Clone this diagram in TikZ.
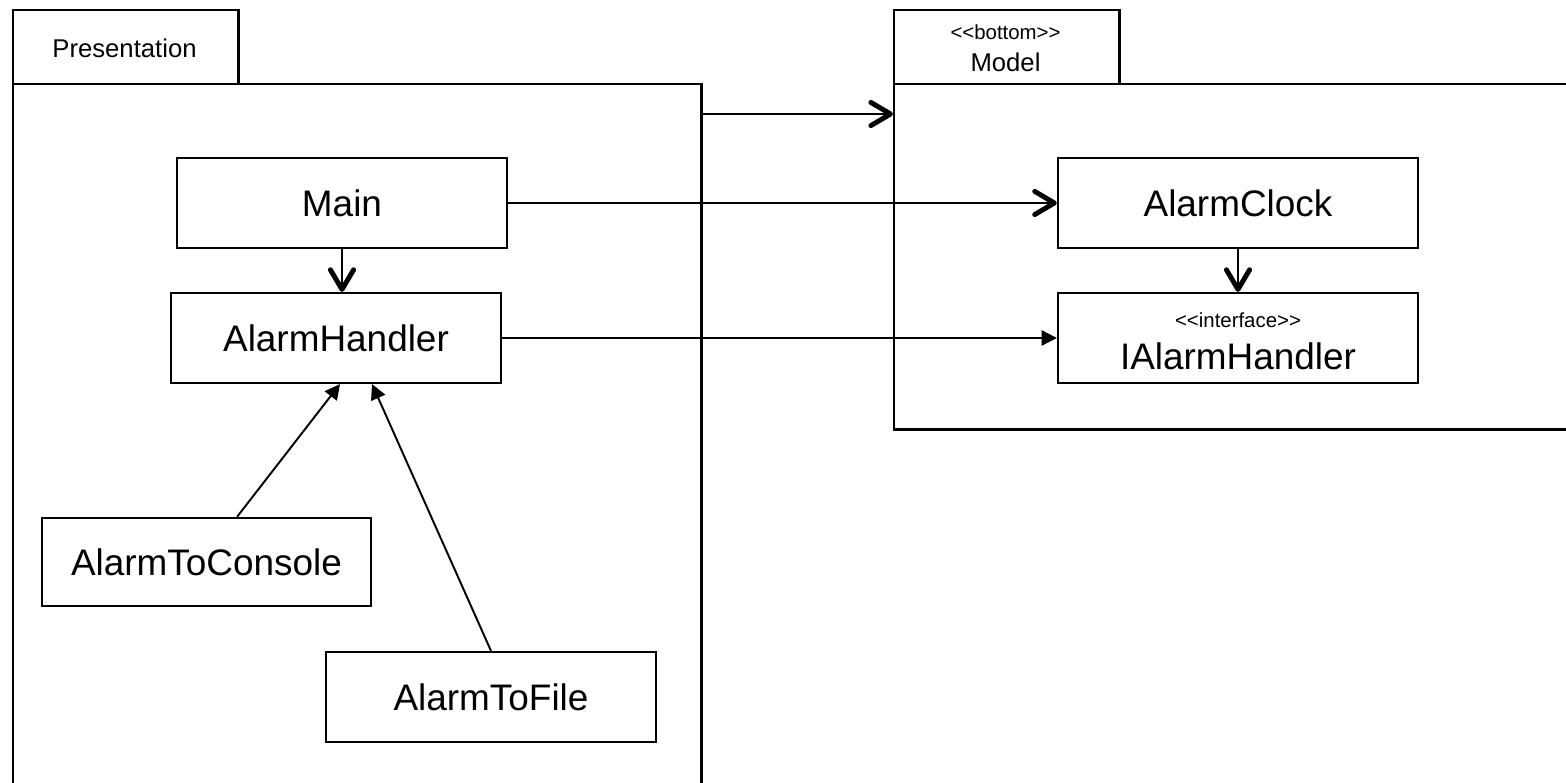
\documentclass[tikz,border=0pt]{standalone}
\usepackage{fontspec}
\setmainfont{Liberation Sans}[Ligatures=TeXOff]
\usetikzlibrary{arrows.meta}
\tikzset{
  pkg/.style={draw, line width=0.7pt, inner sep=0pt, anchor=north west},
  cls/.style={draw, line width=0.6pt, inner sep=0pt, font=\fontsize{10.5pt}{12pt}\selectfont},
  bigtxt/.style={inner sep=0pt, font=\fontsize{10.5pt}{12pt}\selectfont},
  pkgtxt/.style={inner sep=0pt, font=\fontsize{7.3pt}{8.6pt}\selectfont},
  stereo/.style={inner sep=0pt, font=\fontsize{5.8pt}{7pt}\selectfont},
  dep/.style={line width=0.55pt, -{Straight Barb[length=5.6pt,width=6.6pt,line width=1.4pt,round]}},
  real/.style={line width=0.55pt, -{Triangle[length=4.3pt,width=4.3pt]}},
}
\begin{document}
\begin{tikzpicture}[x=0.01cm,y=-0.01cm]
\useasboundingbox (0,0) rectangle (1566,783);
\clip (0,0) rectangle (1566,783);
% packages
\node[pkg, minimum width=2.25cm, minimum height=0.74cm] (presTab) at (12,9) {};
\node[pkgtxt] (presName) at (124.5,48) {Presentation};
\node[pkg, minimum width=6.88cm, minimum height=7.3cm] (presBody) at (12,83) {};
\node[pkg, minimum width=2.25cm, minimum height=0.74cm] (modelTab) at (893,9) {};
\node[stereo] (modelStereo) at (1005.5,32) {<<bottom>>};
\node[pkgtxt] (modelName) at (1005.5,62) {Model};
\node[pkg, minimum width=7.2cm, minimum height=3.45cm] (modelBody) at (893,83) {};
% classes
\node[cls, minimum width=3.30cm, minimum height=0.90cm] (main) at (342,203) {Main};
\node[cls, minimum width=3.30cm, minimum height=0.90cm] (handler) at (336,338) {AlarmHandler};
\node[cls, minimum width=3.60cm, minimum height=0.90cm] (clock) at (1238,203) {AlarmClock};
\node[cls, minimum width=3.60cm, minimum height=0.90cm] (ihandler) at (1238,338) {};
\node[stereo] (ihStereo) at (1238,320) {<<interface>>};
\node[bigtxt] (ihName) at (1238,356) {IAlarmHandler};
\node[cls, minimum width=3.29cm, minimum height=0.88cm] (console) at (206.5,562) {AlarmToConsole};
\node[cls, minimum width=3.30cm, minimum height=0.90cm] (file) at (491,697) {AlarmToFile};
% connectors
\draw[dep] ([yshift=-0.31cm]presBody.north east) -- ([yshift=-0.31cm]modelBody.north west);
\draw[dep] (main.south) -- (main.south |- handler.north);
\draw[dep] (main.east) -- (clock.west |- main.east);
\draw[dep] (clock.south) -- (ihandler.north);
\draw[real] (handler.east) -- (ihandler.west);
\draw[real] ([xshift=0.305cm]console.north) -- ([xshift=0.04cm]handler.south);
\draw[real] (file.north) -- ([xshift=0.36cm]handler.south);
\end{tikzpicture}
\end{document}
